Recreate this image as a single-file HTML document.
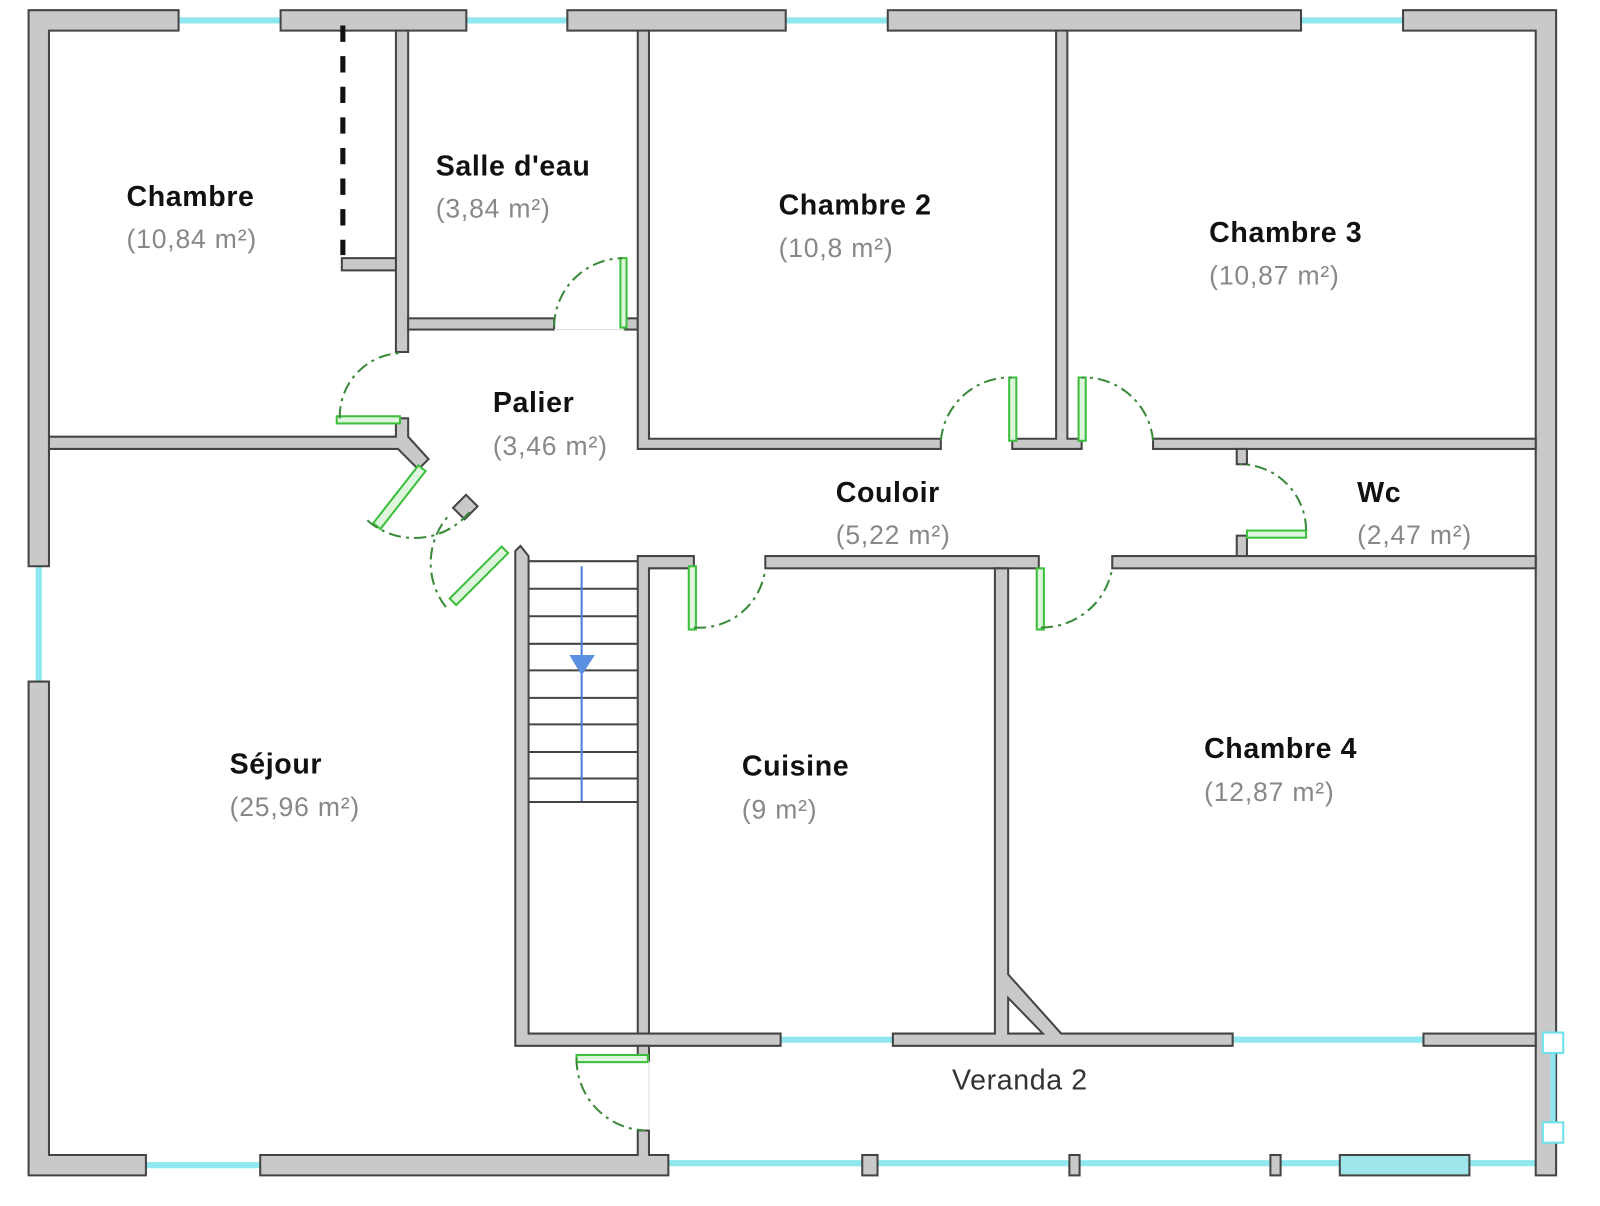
<!DOCTYPE html>
<html><head><meta charset="utf-8"><style>
html,body{margin:0;padding:0;background:#fff;}
svg{display:block;}
.w{fill:#c9c9c9;stroke:#444;stroke-width:2;}
.win{stroke:#8fe8ef;stroke-width:6;fill:none;}
.dr{fill:#dff5dd;stroke:#3cbf3c;stroke-width:2;}
.arc{fill:none;stroke:#3a8a3a;stroke-width:2;stroke-dasharray:12 5 3 5;}
.lb{font-family:"Liberation Sans",sans-serif;font-weight:bold;font-size:28px;letter-spacing:0.6px;fill:#111;}
.ar{font-family:"Liberation Sans",sans-serif;font-size:26px;letter-spacing:0.8px;fill:#888;}
.st{stroke:#444;stroke-width:2;}
</style></head><body>
<svg width="1600" height="1206" viewBox="0 0 1568 1182" preserveAspectRatio="none" xmlns="http://www.w3.org/2000/svg">
<rect x="0" y="0" width="1568" height="1182" fill="#fff"/>
<line class="win" x1="175" y1="20" x2="275" y2="20"/>
<line class="win" x1="457" y1="20" x2="556" y2="20"/>
<line class="win" x1="770" y1="20" x2="870" y2="20"/>
<line class="win" x1="1275" y1="20" x2="1375" y2="20"/>
<line class="win" x1="38" y1="555" x2="38" y2="668"/>
<line class="win" x1="143" y1="1142" x2="255" y2="1142"/>
<line class="win" x1="655" y1="1140" x2="1505" y2="1140"/>
<line class="win" x1="765" y1="1019" x2="875" y2="1019"/>
<line class="win" x1="1208" y1="1019" x2="1395" y2="1019"/>
<path class="w" d="M28 10H175V30H48V555H28Z"/>
<rect class="w" x="275" y="10" width="182" height="20"/>
<rect class="w" x="556" y="10" width="214" height="20"/>
<rect class="w" x="870" y="10" width="405" height="20"/>
<path class="w" d="M1375 10H1525V1152H1505V30H1375Z"/>
<path class="w" d="M28 668H48V1132H143V1152H28Z"/>
<path class="w" d="M255 1132H625V1108H636V1132H655V1152H255Z"/>
<rect class="w" x="845" y="1132" width="15" height="20"/>
<rect class="w" x="1048" y="1132" width="10" height="20"/>
<rect class="w" x="1245" y="1132" width="10" height="20"/>
<rect x="1313" y="1132" width="127" height="20" fill="#9ee6ea" stroke="#444" stroke-width="2"/>
<line x1="1522" y1="1015" x2="1522" y2="1120" stroke="#8fe8ef" stroke-width="5"/>
<rect x="1512" y="1012" width="20" height="20" fill="#fff" stroke="#6fe0ea" stroke-width="2"/>
<rect x="1512" y="1100" width="20" height="20" fill="#fff" stroke="#6fe0ea" stroke-width="2"/>
<path class="w" d="M48 428H388V410H400V428L420 450L410 460L390 440H48Z"/>
<rect class="w" x="388" y="30" width="12" height="315"/>
<rect class="w" x="335" y="253" width="53" height="12"/>
<line x1="336" y1="25" x2="336" y2="250" stroke="#111" stroke-width="5" stroke-dasharray="16 14"/>
<rect class="w" x="400" y="312" width="143" height="11"/>
<rect class="w" x="612" y="312" width="13" height="11"/>
<path class="w" d="M625 30H636V430H922V440H625Z"/>
<path class="w" d="M992 430H1035V30H1046V430H1060V440H992Z"/>
<rect class="w" x="1130" y="430" width="375" height="10"/>
<rect class="w" x="1212" y="440" width="10" height="15"/>
<rect class="w" x="1212" y="525" width="10" height="23"/>
<path class="w" d="M625 545H680V557H636V1013H625Z"/>
<rect class="w" x="750" y="545" width="268" height="12"/>
<rect class="w" x="1090" y="545" width="415" height="12"/>
<path class="w" d="M505 540L510 535L518 545V1013H765V1025H505Z"/>
<path class="w" d="M875 1013H975V557H988V955L1040 1013H1208V1025H875Z"/>
<path d="M988 978L1022 1013H988Z" fill="#fff" stroke="#444" stroke-width="2"/>
<rect class="w" x="1395" y="1013" width="110" height="12"/>
<rect class="w" x="625" y="1025" width="11" height="15"/>
<rect class="w" x="448" y="488" width="16" height="18" transform="rotate(45 456 497)"/>
<g class="st">
<line x1="518" y1="550" x2="625" y2="550"/><line x1="518" y1="577" x2="625" y2="577"/>
<line x1="518" y1="604" x2="625" y2="604"/><line x1="518" y1="631" x2="625" y2="631"/>
<line x1="518" y1="657" x2="625" y2="657"/><line x1="518" y1="684" x2="625" y2="684"/>
<line x1="518" y1="710" x2="625" y2="710"/><line x1="518" y1="737" x2="625" y2="737"/>
<line x1="518" y1="763" x2="625" y2="763"/><line x1="518" y1="786" x2="625" y2="786"/>
</g>
<line x1="570" y1="555" x2="570" y2="785" stroke="#4a7fd6" stroke-width="2"/>
<path d="M558 642H583L570 662Z" fill="#5b8fe0"/>
<line x1="543" y1="323" x2="612" y2="323" stroke="#ddd" stroke-width="1"/>
<rect class="dr" x="608" y="253" width="6" height="68"/>
<path class="arc" d="M543 320A68 68 0 0 1 610 253"/>
<rect class="dr" x="330" y="408" width="62" height="7"/>
<path class="arc" d="M333 410A62 62 0 0 1 395 346"/>
<rect class="dr" x="355" y="483" width="72" height="9" transform="rotate(-52 391 487)"/>
<path class="arc" d="M360 510A70 70 0 0 0 460 502"/>
<rect class="dr" x="433" y="560" width="72" height="9" transform="rotate(-45 469 564)"/>
<path class="arc" d="M437 595A70 70 0 0 1 440 505"/>
<rect class="dr" x="675" y="555" width="7" height="62"/>
<path class="arc" d="M680 615A65 65 0 0 0 750 557"/>
<rect class="dr" x="989" y="370" width="7" height="62"/>
<path class="arc" d="M922 432A68 68 0 0 1 992 370"/>
<rect class="dr" x="1057" y="370" width="7" height="62"/>
<path class="arc" d="M1130 432A68 68 0 0 0 1060 370"/>
<rect class="dr" x="1222" y="520" width="58" height="7"/>
<path class="arc" d="M1280 520A65 65 0 0 0 1215 455"/>
<rect class="dr" x="1016" y="557" width="7" height="60"/>
<path class="arc" d="M1020 615A70 70 0 0 0 1090 557"/>
<rect class="dr" x="565" y="1034" width="70" height="7"/>
<path class="arc" d="M565 1037A70 70 0 0 0 632 1108"/>
<line x1="636" y1="1040" x2="636" y2="1105" stroke="#ddd" stroke-width="1"/>
<text class="lb" x="124" y="202">Chambre</text><text class="ar" x="124" y="243">(10,84 m²)</text>
<text class="lb" x="427" y="172">Salle d'eau</text><text class="ar" x="427" y="213">(3,84 m²)</text>
<text class="lb" x="763" y="210">Chambre 2</text><text class="ar" x="763" y="252">(10,8 m²)</text>
<text class="lb" x="1185" y="237">Chambre 3</text><text class="ar" x="1185" y="279">(10,87 m²)</text>
<text class="lb" x="483" y="404">Palier</text><text class="ar" x="483" y="446">(3,46 m²)</text>
<text class="lb" x="819" y="492">Couloir</text><text class="ar" x="819" y="533">(5,22 m²)</text>
<text class="lb" x="1330" y="492">Wc</text><text class="ar" x="1330" y="533">(2,47 m²)</text>
<text class="lb" x="225" y="758">Séjour</text><text class="ar" x="225" y="800">(25,96 m²)</text>
<text class="lb" x="727" y="760">Cuisine</text><text class="ar" x="727" y="802">(9 m²)</text>
<text class="lb" x="1180" y="743">Chambre 4</text><text class="ar" x="1180" y="785">(12,87 m²)</text>
<text x="933" y="1068" font-family="Liberation Sans, sans-serif" font-size="28" letter-spacing="0.6" fill="#333">Veranda 2</text>
</svg>
</body></html>
